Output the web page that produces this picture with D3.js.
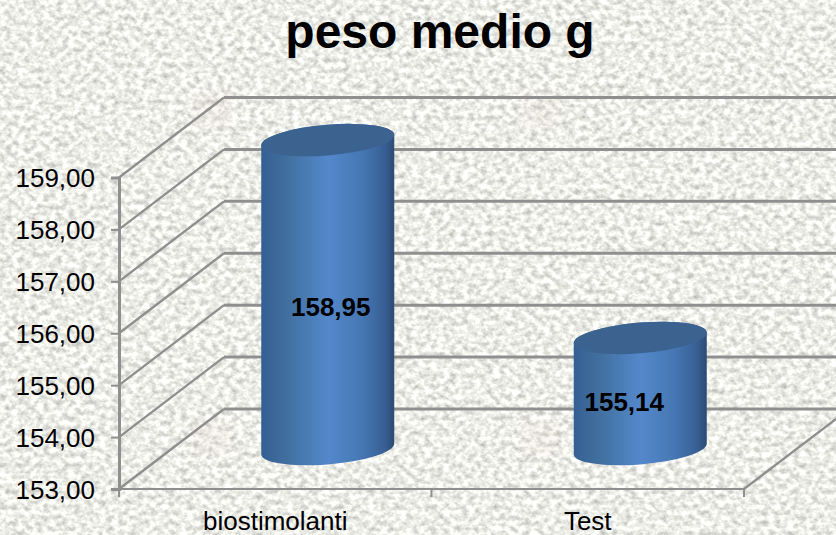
<!DOCTYPE html>
<html>
<head>
<meta charset="utf-8">
<script src="https://cdn.jsdelivr.net/npm/d3@7"></script>
<style>
  html, body { margin: 0; padding: 0; background: #ebebe7; overflow: hidden; }
  text { font-family: "Liberation Sans", Arial, sans-serif; fill: #000; }
</style>
</head>
<body>
<div id="chart"></div>
<script>
var categories = ["biostimolanti", "Test"];
var pesoValues = [158.95, 155.14];
var yTicks = [153, 154, 155, 156, 157, 158, 159];
var chartTitle = "peso medio g";

var width = 836, height = 535;
var depthX = 105, depthY = 80;   // how far the back wall sits from the front plane
var barRx = 66.5, barRy = 15.4, barSkew = 5.2;
var gridColor = "#8f8f8f";

var svg = d3.select("#chart").append("svg")
    .attr("width", width).attr("height", height)
    .style("display", "block");

var defs = svg.append("defs");

// stone paper background
var stone = defs.append("filter").attr("id", "stone")
    .attr("x", 0).attr("y", 0).attr("width", "100%").attr("height", "100%")
    .attr("color-interpolation-filters", "sRGB");
stone.append("feTurbulence")
    .attr("type", "fractalNoise").attr("baseFrequency", "0.16 0.19")
    .attr("numOctaves", 3).attr("seed", 7);
stone.append("feColorMatrix").attr("type", "matrix")
    .attr("values", "0.5 0 0 0 0.68  0.5 0 0 0 0.68  0.48 0 0 0 0.67  0 0 0 0 1");

var grad = defs.append("linearGradient").attr("id", "cyl")
    .attr("x1", 0).attr("x2", 1).attr("y1", 0).attr("y2", 0);
grad.selectAll("stop")
    .data([[0, "#355f94"], [0.2, "#41709f"], [0.5, "#5488cb"], [0.75, "#4778b5"], [0.93, "#385f93"], [1, "#2b4a73"]])
    .enter().append("stop")
    .attr("offset", function (d) { return d[0]; })
    .attr("stop-color", function (d) { return d[1]; });

var blur = defs.append("filter").attr("id", "soft");
blur.append("feGaussianBlur").attr("stdDeviation", 3);

svg.append("rect").attr("width", width).attr("height", height)
    .attr("filter", "url(#stone)");

// the faint warm patches in the paper
var patches = [[192, 92], [522, 92], [192, 420], [522, 420]];
svg.selectAll(".patch").data(patches).enter().append("rect")
    .attr("x", function (d) { return d[0]; })
    .attr("y", function (d) { return d[1]; })
    .attr("width", 38).attr("height", 36)
    .attr("fill", "#e9dccd").attr("opacity", 0.18)
    .attr("filter", "url(#soft)");

var x = d3.scaleBand().domain(categories).range([119, 744]);
var y = d3.scaleLinear().domain([153, 159]).range([489, 177.5]);

// wall and floor grid
var grid = svg.append("g").attr("fill", "none").attr("stroke", gridColor);

grid.selectAll(".back").data(yTicks).enter().append("line")
    .attr("x1", x.range()[0] + depthX).attr("x2", width)
    .attr("y1", function (d) { return y(d) - depthY; })
    .attr("y2", function (d) { return y(d) - depthY; })
    .attr("stroke-width", 3);

grid.selectAll(".side").data(yTicks).enter().append("line")
    .attr("x1", x.range()[0])
    .attr("y1", function (d) { return y(d); })
    .attr("x2", x.range()[0] + depthX)
    .attr("y2", function (d) { return y(d) - depthY; })
    .attr("stroke-width", 2.4);

grid.append("line")
    .attr("x1", x.range()[1]).attr("y1", y(153))
    .attr("x2", x.range()[1] + depthX).attr("y2", y(153) - depthY)
    .attr("stroke-width", 2.4);

// front axes
var yAxis = svg.append("g").attr("transform", "translate(" + x.range()[0] + ",0)")
    .call(d3.axisLeft(y)
        .tickValues(yTicks)
        .tickSize(8)
        .tickPadding(16)
        .tickFormat(function (d) { return d3.format(".2f")(d).replace(".", ","); }));
yAxis.select(".domain").attr("stroke", gridColor).attr("stroke-width", 3);
yAxis.selectAll(".tick line").attr("stroke", gridColor).attr("stroke-width", 2);
yAxis.selectAll("text")
    .style("font-size", "26px")
    .attr("dy", "0.36em")
    .attr("fill", "#000");

var xAxis = svg.append("g").attr("transform", "translate(0," + y(153) + ")");
xAxis.append("line")
    .attr("x1", x.range()[0]).attr("x2", x.range()[1])
    .attr("stroke", gridColor).attr("stroke-width", 2);
xAxis.selectAll(".cat-tick")
    .data([x.range()[0], x.range()[0] + x.bandwidth(), x.range()[1]])
    .enter().append("line")
    .attr("x1", function (d) { return d; }).attr("x2", function (d) { return d; })
    .attr("y1", 0).attr("y2", 8)
    .attr("stroke", gridColor).attr("stroke-width", 2);
xAxis.selectAll(".cat-label").data(categories).enter().append("text")
    .attr("x", function (d) { return x(d) + x.bandwidth() / 2; })
    .attr("y", 41)
    .attr("text-anchor", "middle")
    .style("font-size", "26px")
    .text(function (d) { return d; });

// cylinders stand halfway into the floor depth
var bars = svg.selectAll(".bar")
    .data(categories.map(function (c, i) { return { cat: c, value: pesoValues[i] }; }))
    .enter().append("g")
    .attr("class", "bar")
    .attr("transform", function (d) {
        var cx = x(d.cat) + x.bandwidth() / 2 + depthX / 2;
        return "translate(" + cx + "," + (y(d.value) - depthY / 2) + ")";
    });

function skewed(sel) {
    sel.attr("transform", "matrix(1," + (-barSkew / barRx) + ",0,1,0,0)");
}

bars.append("path")
    .attr("fill", "url(#cyl)")
    .call(skewed)
    .attr("d", function (d) {
        var h = y(153) - y(d.value);
        return "M" + (-barRx) + ",0V" + h +
            "A" + barRx + "," + barRy + " 0 0 0 " + barRx + "," + h +
            "V0A" + barRx + "," + barRy + " 0 0 0 " + (-barRx) + ",0Z";
    });

bars.append("ellipse")
    .attr("rx", barRx).attr("ry", barRy)
    .attr("fill", "#3c6290")
    .call(skewed);

// value labels sit a little off the bar centre like the original
var labelOffset = { "biostimolanti": 3, "Test": -16 };
var labelY = d3.scaleLinear().domain([155.14, 158.95]).range([411, 316]);
svg.selectAll(".val").data(pesoValues).enter().append("text")
    .attr("x", function (d, i) {
        var c = categories[i];
        return x(c) + x.bandwidth() / 2 + depthX / 2 + labelOffset[c];
    })
    .attr("y", function (d) { return labelY(d); })
    .attr("text-anchor", "middle")
    .style("font-size", "26px")
    .style("font-weight", "bold")
    .text(function (d) { return d3.format(".2f")(d).replace(".", ","); });

svg.append("text")
    .attr("x", 440).attr("y", 48)
    .attr("text-anchor", "middle")
    .style("font-size", "48px")
    .style("font-weight", "bold")
    .text(chartTitle);
</script>
</body>
</html>
